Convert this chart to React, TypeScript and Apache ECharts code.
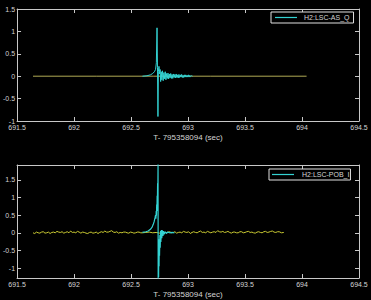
import React, { useEffect, useRef } from "react";
import * as echarts from "echarts";

const xTicksMin = 691.5;
const xTicksMax = 694.5;
const topYMin = -1;
const topYMax = 1.5;
const bottomYMin = -1.28;
const bottomYMax = 1.92;
const bottomYTicks = [-1, -0.5, 0, 0.5, 1, 1.5];
const axisTitle = "T- 795358094 (sec)";
const topLegendName = "H2:LSC-AS_Q";
const bottomLegendName = "H2:LSC-POB_I";

// top panel: flat reference trace (yellow) and AS_Q (cyan)
const topFlat: [number, number][] = [
  [691.64, 0], [692.2, 0], [692.7, 0], [693.2, 0], [694.04, 0],
];
const topCyan: [number, number][] = [
  [692.6, 0], [692.64, 0.01], [692.67, 0.03], [692.69, 0.06], [692.705, 0.1],
  [692.715, 0.15], [692.722, 0.3], [692.728, 1.08], [692.732, 0.2], [692.736, -0.9],
  [692.74, 0.1], [692.745, 0.22], [692.75, 0.05], [692.755, 0.15], [692.76, -0.12],
  [692.765, 0.1], [692.77, -0.08], [692.776, 0.12], [692.782, -0.1], [692.788, 0.08],
  [692.795, -0.06], [692.8, 0.1], [692.806, -0.08], [692.812, 0.06], [692.818, -0.05],
  [692.824, 0.07], [692.83, -0.06], [692.836, 0.05], [692.842, -0.04], [692.848, 0.06],
  [692.854, -0.05], [692.86, 0.04], [692.866, -0.05], [692.872, 0.05], [692.878, -0.03],
  [692.884, 0.04], [692.89, -0.04], [692.896, 0.05], [692.902, -0.03], [692.908, 0.03],
  [692.914, -0.04], [692.92, 0.04], [692.926, -0.03], [692.932, 0.03], [692.938, -0.02],
  [692.944, 0.04], [692.95, -0.03], [692.956, 0.02], [692.962, -0.03], [692.968, 0.03],
  [692.974, -0.02], [692.98, 0.03], [692.986, -0.02], [692.992, 0.02], [692.998, -0.02],
  [693.004, 0.03], [693.01, -0.02], [693.016, 0.02], [693.022, -0.01], [693.03, 0.01],
  [693.04, 0],
];

// bottom panel: noisy reference trace (yellow) and POB_I (cyan)
const bottomNoise: [number, number][] = [
  [691.64, 0.0], [691.655, -0.02], [691.67, 0.02], [691.685, 0.0], [691.7, -0.01],
  [691.715, 0.02], [691.73, 0.03], [691.745, -0.01], [691.76, 0.0], [691.775, 0.02],
  [691.79, -0.02], [691.805, 0.01], [691.82, 0.02], [691.835, 0.0], [691.85, 0.04],
  [691.865, 0.02], [691.88, 0.01], [691.895, 0.03], [691.91, -0.01], [691.925, 0.01],
  [691.94, 0.03], [691.955, 0.0], [691.97, 0.05], [691.985, 0.01], [692.0, 0.02],
  [692.015, 0.0], [692.03, 0.04], [692.045, 0.02], [692.06, -0.01], [692.075, 0.02],
  [692.09, 0.01], [692.105, -0.01], [692.12, -0.02], [692.135, 0.01], [692.15, 0.02],
  [692.165, -0.01], [692.18, 0.0], [692.195, 0.02], [692.21, -0.02], [692.225, 0.01],
  [692.24, 0.03], [692.255, 0.01], [692.27, 0.05], [692.285, 0.02], [692.3, 0.02],
  [692.315, 0.04], [692.33, 0.06], [692.345, 0.02], [692.36, 0.01], [692.375, 0.03],
  [692.39, -0.01], [692.405, 0.01], [692.42, 0.0], [692.435, 0.02], [692.45, 0.02],
  [692.465, 0.0], [692.48, -0.01], [692.495, 0.02], [692.51, 0.01], [692.525, -0.01],
  [692.54, 0.0], [692.555, 0.02], [692.57, 0.02], [692.585, 0.0], [692.6, 0.0],
  [692.63, 0.01], [692.66, 0.02], [692.69, 0.0], [692.72, 0.01], [692.75, -0.01],
  [692.78, 0.02], [692.81, 0.0], [692.825, 0.02], [692.84, 0.03], [692.855, 0.0],
  [692.87, 0.01], [692.885, 0.03], [692.9, -0.01], [692.915, 0.01], [692.93, 0.02],
  [692.945, 0.0], [692.96, 0.04], [692.975, 0.02], [692.99, 0.01], [693.005, 0.03],
  [693.02, -0.02], [693.035, 0.01], [693.05, 0.03], [693.065, 0.01], [693.08, 0.0],
  [693.095, 0.03], [693.11, 0.05], [693.125, 0.01], [693.14, 0.02], [693.155, 0.0],
  [693.17, 0.04], [693.185, 0.02], [693.2, 0.0], [693.215, 0.02], [693.23, 0.03],
  [693.245, 0.01], [693.26, 0.06], [693.275, 0.03], [693.29, 0.02], [693.305, 0.04],
  [693.32, 0.01], [693.335, 0.02], [693.35, 0.04], [693.365, 0.01], [693.38, -0.01],
  [693.395, 0.02], [693.41, 0.02], [693.425, 0.0], [693.44, 0.0], [693.455, 0.03],
  [693.47, 0.03], [693.485, 0.0], [693.5, 0.01], [693.515, 0.03], [693.53, 0.04],
  [693.545, 0.01], [693.56, 0.02], [693.575, 0.0], [693.59, -0.01], [693.605, 0.02],
  [693.62, 0.03], [693.635, 0.01], [693.65, 0.0], [693.665, 0.03], [693.68, 0.04],
  [693.695, 0.01], [693.71, 0.02], [693.725, 0.04], [693.74, 0.05], [693.755, 0.02],
  [693.77, 0.01], [693.785, 0.03], [693.8, 0.03], [693.82, 0.0], [693.84, 0.01],
];
const bottomCyan: [number, number][] = [
  [692.6, 0.01], [692.63, 0.03], [692.65, 0.05], [692.67, 0.1], [692.685, 0.16],
  [692.695, 0.24], [692.703, 0.32], [692.71, 0.42], [692.715, 0.5], [692.718, 0.4],
  [692.721, 0.62], [692.723, 0.48], [692.725, 0.8], [692.727, 0.62], [692.729, 1.05],
  [692.731, 0.85], [692.733, 1.4], [692.735, 1.15], [692.737, 1.95], [692.738, -1.3],
  [692.74, -0.6], [692.742, -1.25], [692.744, -0.35], [692.746, -0.95], [692.748, -0.18],
  [692.75, -0.65], [692.753, -0.06], [692.756, -0.42], [692.759, 0.05], [692.762, -0.26],
  [692.766, 0.08], [692.77, -0.15], [692.775, 0.07], [692.78, -0.09], [692.785, 0.05],
  [692.79, -0.04], [692.8, 0.03], [692.81, -0.02], [692.82, 0.02], [692.84, 0.0],
  [692.86, 0.01], [692.88, 0.0],
];

const FONT = "Liberation Sans";
const TXT = "#d4d4d4";
const AX = "#c8c8c8";
const CYAN = "#33d2d2";
const YELLOW = "#cccc33";

function xAxisDef(grid: number, mirror: boolean): any {
  return {
    type: "value",
    gridIndex: grid,
    min: xTicksMin,
    max: xTicksMax,
    interval: 0.5,
    position: mirror ? "top" : "bottom",
    name: mirror ? "" : axisTitle,
    nameLocation: "middle",
    nameGap: 12,
    nameTextStyle: { color: TXT, fontSize: 8, fontFamily: FONT },
    axisLine: { show: true, onZero: false, lineStyle: { color: AX, width: 1 } },
    axisTick: { show: true, inside: true, length: 4, lineStyle: { color: AX } },
    axisLabel: {
      show: !mirror,
      color: TXT,
      fontSize: 7,
      fontFamily: FONT,
      margin: 3,
      showMinLabel: true,
      showMaxLabel: true,
    },
    splitLine: { show: false },
  };
}

function yAxisDef(grid: number, mirror: boolean): any {
  const isTop = grid === 0;
  const base: any = {
    type: "value",
    gridIndex: grid,
    min: isTop ? topYMin : bottomYMin,
    max: isTop ? topYMax : bottomYMax,
    position: mirror ? "right" : "left",
    axisLine: { show: true, onZero: false, lineStyle: { color: AX, width: 1 } },
    axisTick: { show: true, inside: true, length: 4, lineStyle: { color: AX } },
    axisLabel: {
      show: !mirror,
      color: TXT,
      fontSize: 7,
      fontFamily: FONT,
      margin: 2,
      showMinLabel: true,
      showMaxLabel: true,
    },
    splitLine: { show: false },
  };
  if (isTop) {
    base.interval = 0.5;
  } else {
    base.axisTick.customValues = bottomYTicks;
    base.axisLabel.customValues = bottomYTicks;
  }
  return base;
}

export default function App() {
  const ref = useRef<HTMLDivElement>(null);
  useEffect(() => {
    document.body.style.margin = "0";
    document.body.style.background = "#000";
    if (!ref.current) return;
    const chart = echarts.init(ref.current, null, { renderer: "svg" });
    const legendCommon = {
      orient: "horizontal",
      icon: "rect",
      itemWidth: 22,
      itemHeight: 1.2,
      backgroundColor: "#000",
      borderColor: "#e0e0e0",
      borderWidth: 1,
      borderRadius: 0,
      selectedMode: false,
    };
    chart.setOption({
      animation: false,
      backgroundColor: "#000",
      grid: [
        { left: 17, right: 12, top: 9, height: 112 },
        { left: 17, right: 12, top: 165, height: 113 },
      ],
      legend: [
        {
          ...legendCommon,
          data: [topLegendName],
          left: 271,
          top: 12,
          padding: [2, 4, 2, 4],
          textStyle: { color: TXT, fontSize: 7, fontFamily: FONT, padding: [0, 0, 0, 2] },
        },
        {
          ...legendCommon,
          data: [bottomLegendName],
          left: 269,
          top: 169,
          padding: [2, 1, 2, 3],
          textStyle: {
            color: TXT,
            fontSize: 7,
            fontFamily: FONT,
            padding: [0, 0, 0, 3],
          },
        },
      ],
      xAxis: [xAxisDef(0, false), xAxisDef(1, false), xAxisDef(0, true), xAxisDef(1, true)],
      yAxis: [yAxisDef(0, false), yAxisDef(1, false), yAxisDef(0, true), yAxisDef(1, true)],
      series: [
        {
          type: "line",
          name: "ref-top",
          xAxisIndex: 0,
          yAxisIndex: 0,
          data: topFlat,
          showSymbol: false,
          lineStyle: { color: "#b0aa55", width: 1 },
          itemStyle: { color: "#b0aa55" },
        },
        {
          type: "line",
          name: topLegendName,
          xAxisIndex: 0,
          yAxisIndex: 0,
          data: topCyan,
          showSymbol: false,
          lineStyle: { color: CYAN, width: 1 },
          itemStyle: { color: CYAN },
        },
        {
          type: "line",
          name: "ref-bottom",
          xAxisIndex: 1,
          yAxisIndex: 1,
          data: bottomNoise,
          showSymbol: false,
          lineStyle: { color: YELLOW, width: 1 },
          itemStyle: { color: YELLOW },
        },
        {
          type: "line",
          name: bottomLegendName,
          xAxisIndex: 1,
          yAxisIndex: 1,
          data: bottomCyan,
          showSymbol: false,
          lineStyle: { color: CYAN, width: 1.2 },
          itemStyle: { color: CYAN },
        },
      ],
    });
    return () => chart.dispose();
  }, []);
  return <div ref={ref} style={{ width: 371, height: 300, background: "#000" }} />;
}
